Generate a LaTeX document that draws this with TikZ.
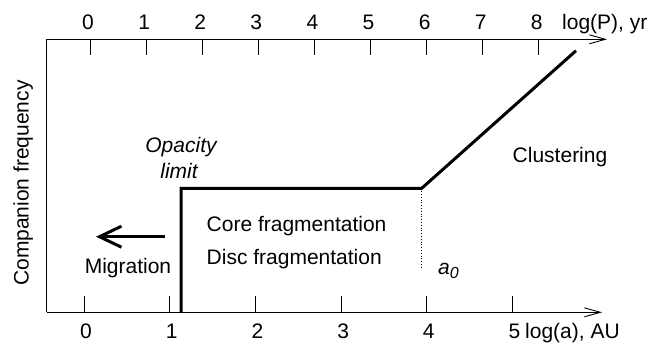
\documentclass[tikz,border=0pt]{standalone}
\usepackage{fontspec}
\setmainfont{Liberation Sans}
\usetikzlibrary{arrows.meta}
\begin{document}
\begin{tikzpicture}[x=1pt,y=-1pt,
  lbl/.style={inner sep=0pt,font=\fontsize{21}{25}\selectfont,anchor=base},
  axis/.style={line width=0.9pt,-{Straight Barb[length=16pt,width=9pt,line width=0.9pt]}},
  tick/.style={line width=0.9pt},
  curve/.style={line width=3pt,line join=miter},
  migr/.style={line width=3pt,-{Straight Barb[length=22pt,width=21pt,line width=3pt]}}]
\useasboundingbox (0,0) rectangle (668,343);
% axes
\coordinate (tl) at (46.7,39.3);
\coordinate (tr) at (607,39.3);
\coordinate (bl) at (46.7,312.3);
\coordinate (br) at (602,312.3);
\draw[axis] (tl) -- (tr);
\draw[axis] (bl) -- (br);
\draw[tick] (tl) -- (bl);
% top ticks and labels
\foreach \i in {0,...,8} {
  \coordinate (tt\i) at ({90+56.1*\i},39.3);
  \coordinate (tb\i) at ({90+56.1*\i},55);
  \draw[tick] (tt\i) -- (tb\i);
  \node[lbl] (tlab\i) at ({88+56.1*\i},29.3) {\i};
}
\node[lbl,anchor=base west] (plab) at (562,29.3) {log(P), yr};
% bottom ticks and labels
\foreach \i in {0,...,5} {
  \coordinate (bt\i) at ({84+85.7*\i},312.3);
  \coordinate (bb\i) at ({84+85.7*\i},296);
  \draw[tick] (bt\i) -- (bb\i);
  \node[lbl] (blab\i) at ({86+85.7*\i},338) {\i};
}
\node[lbl,anchor=base west] (alab) at (525,338) {log(a), AU};
% main curve
\coordinate (c0) at (181,312.3);
\coordinate (c1) at (181,188.3);
\coordinate (c2) at (421.7,188.3);
\coordinate (c3) at (576,50.7);
\draw[curve] (c0) -- (c1) -- (c2) -- (c3);
\coordinate (d1) at (421.7,268);
\draw[line width=0.8pt,dotted] (c2) -- (d1);
% labels
\node[lbl,rotate=90] (yl) at (28.5,183) {Companion frequency};
\node[lbl,font=\fontsize{21}{25}\selectfont\itshape] (op1) at (181,152.3) {Opacity};
\node[lbl,font=\fontsize{21}{25}\selectfont\itshape] (op2) at (179,178.3) {limit};
\node[lbl,anchor=base west] (core) at (206.5,231.8) {Core fragmentation};
\node[lbl,anchor=base west] (disc) at (206.5,264.2) {Disc fragmentation};
\node[lbl] (clu) at (560,162.2) {Clustering};
\node[lbl] (mig) at (128,273.3) {Migration};
\node[lbl,anchor=base west,font=\fontsize{21}{25}\selectfont\itshape] (a0) at (438,274) {a\raisebox{-4pt}{\fontsize{16}{16}\selectfont\itshape 0}};
% migration arrow
\coordinate (m1) at (165,236.7);
\coordinate (m2) at (96,236.7);
\draw[migr] (m1) -- (m2);
\end{tikzpicture}
\end{document}
